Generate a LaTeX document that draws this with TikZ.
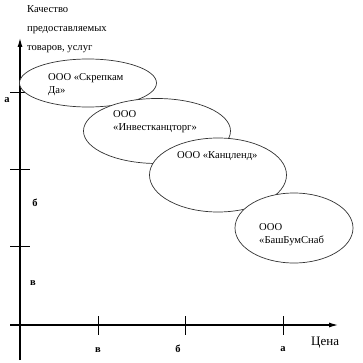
\documentclass[tikz,border=0pt]{standalone}
\usepackage{fontspec}
\setmainfont{Liberation Serif}
\usetikzlibrary{shapes.geometric,arrows.meta}

\begin{document}
\begin{tikzpicture}[
    x=1pt, y=-1pt,
    firm/.style={ellipse, draw=black!80, fill=white, line width=0.7pt, inner sep=0pt},
    firmtext/.style={align=left, font=\fontsize{10.6}{13}\selectfont, inner sep=0pt, anchor=base west},
    axis/.style={draw, line width=1.1pt, -{Latex[length=9pt,width=5pt]}},
    tickmark/.style={draw, line width=0.8pt},
    ticklabel/.style={font=\fontsize{10.5}{12}\selectfont\bfseries, inner sep=0pt}
]
\useasboundingbox (0,0) rectangle (362,363);

% axes
\coordinate (xstart) at (10,325);
\coordinate (xend) at (338,325);
\coordinate (ystart) at (20,360);
\coordinate (yend) at (20,38);
\path [axis] (xstart) -- (xend);
\path [axis] (ystart) -- (yend);

\node [align=left, anchor=north west, inner sep=0pt, font=\fontsize{10.6}{19}\selectfont] (quality) at (27,5) {Качество\\предоставляемых\\товаров, услуг};
\node [anchor=base west, inner sep=0pt, font=\fontsize{13}{15}\selectfont] (price) at (311,345) {Цена};

% ticks
\foreach \x in {98,185,283}
    \path [tickmark] (\x,316) -- (\x,335);
\foreach \y in {92,169,246}
    \path [tickmark] (10,\y) -- (30,\y);

\node [ticklabel] (xc) at (98,350) {в};
\node [ticklabel] (xb) at (178,349) {б};
\node [ticklabel] (xa) at (283,349) {а};
\node [ticklabel] (ya) at (7,100) {а};
\node [ticklabel] (yb) at (35,203) {б};
\node [ticklabel] (yc) at (33,283) {в};

% firms
\node [firm, minimum width=137pt, minimum height=48pt] (skrepka) at (88,83) {};
\node [firmtext] (skrepkatext) at (48,94) {ООО «Скрепкам\\Да»};
\node [firm, minimum width=147pt, minimum height=65pt] (invest) at (157,131) {};
\node [firmtext] (investtext) at (113,131) {ООО\\«Инвестканцторг»};
\node [firm, minimum width=137pt, minimum height=74pt] (kanc) at (218,175) {};
\node [firmtext] (kanctext) at (177,159) {ООО «Канцленд»};
\node [firm, minimum width=118pt, minimum height=70pt] (bash) at (294,228) {};
\node [firmtext] (bashtext) at (259,243) {ООО\\«БашБумСнаб};

\end{tikzpicture}
\end{document}
